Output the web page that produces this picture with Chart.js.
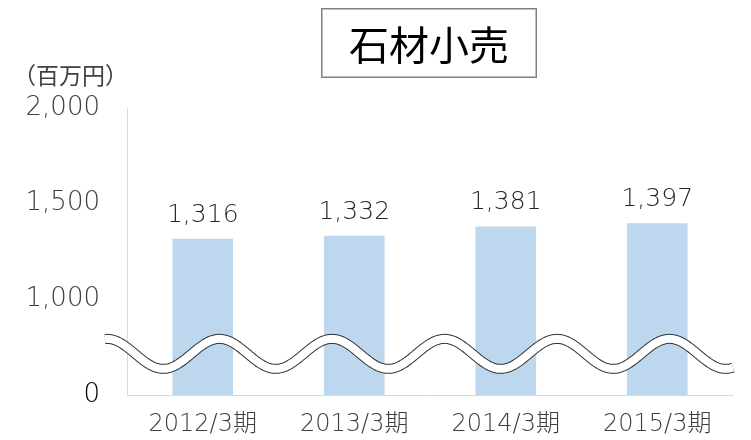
<!DOCTYPE html>
<html>
<head>
<meta charset="utf-8">
<script src="https://cdn.jsdelivr.net/npm/chart.js@4"></script>
<style>
  body { margin: 0; background: #fff; }
  #wrap { position: relative; width: 751px; height: 440px; font-family: "Noto Sans CJK JP", sans-serif; }
  #title {
    position: absolute; left: 321px; top: 8px; width: 214px; height: 68px;
    border: 1px solid #7f7f7f; box-shadow: inset 0 0 0 1px #bfbfbf;
    font-size: 40px; line-height: 68px; text-align: center; color: #000;
  }
  #unit { position: absolute; left: 13px; top: 57px; font-size: 23px; color: #404040; }
  canvas { position: absolute; left: 0; top: 0; }
</style>
</head>
<body>
<div id="wrap">
  <canvas id="chart" width="751" height="440"></canvas>
  <div id="title">石材小売</div>
  <div id="unit">（百万円）</div>
</div>
<script>
const categories = ['2012/3期', '2013/3期', '2014/3期', '2015/3期'];
const sales = [1316, 1332, 1381, 1397];
const yTicks = [500, 1000, 1500, 2000];
const tickLabels = ['0', '1,000', '1,500', '2,000'];

const FONT = '"DejaVu Sans", "Noto Sans CJK JP", sans-serif';

// draw value labels above bars
const valueLabels = {
  id: 'valueLabels',
  afterDatasetsDraw(chart) {
    const ctx = chart.ctx;
    const meta = chart.getDatasetMeta(0);
    ctx.save();
    ctx.font = '200 25px ' + FONT;
    ctx.fillStyle = '#262626';
    ctx.textAlign = 'center';
    ctx.textBaseline = 'alphabetic';
    meta.data.forEach((bar, i) => {
      ctx.fillText(sales[i].toLocaleString('en-US'), bar.x, bar.y - 17);
    });
    ctx.restore();
  }
};

// wavy double line marking the axis break
const breakWave = {
  id: 'breakWave',
  afterDatasetsDraw(chart) {
    const ctx = chart.ctx;
    const area = chart.chartArea;
    const y = chart.scales.y;
    const mid = y.getPixelForValue(715);
    const amp = 15;
    const period = 112.5;
    const x0 = area.left - 22;
    const x1 = area.right;
    const phase = area.left - 20;
    ctx.save();
    ctx.beginPath();
    for (let x = x0; x <= x1; x += 1) {
      const yy = mid - amp * Math.cos(2 * Math.PI * (x - phase) / period);
      if (x === x0) ctx.moveTo(x, yy); else ctx.lineTo(x, yy);
    }
    ctx.lineCap = 'butt';
    ctx.lineJoin = 'round';
    ctx.strokeStyle = '#333';
    ctx.lineWidth = 10;
    ctx.stroke();
    ctx.strokeStyle = '#fff';
    ctx.lineWidth = 8;
    ctx.stroke();
    ctx.restore();
  }
};

new Chart(document.getElementById('chart'), {
  type: 'bar',
  data: {
    labels: categories,
    datasets: [{
      data: sales,
      backgroundColor: '#bdd7ee',
      barPercentage: 0.4,
      categoryPercentage: 1
    }]
  },
  options: {
    responsive: false,
    animation: false,
    layout: { padding: { top: 108, right: 18, left: 26, bottom: 1 } },
    plugins: { legend: { display: false }, tooltip: { enabled: false } },
    scales: {
      x: {
        grid: { display: false, drawTicks: false },
        border: { display: true, color: '#d9d9d9', width: 1 },
        ticks: { color: '#404040', font: { family: FONT, size: 24, weight: 200 }, padding: 15 },
        afterFit(axis) { axis.height = 44; axis.paddingLeft = 0; axis.paddingRight = 0; }
      },
      y: {
        min: 500,
        max: 2000,
        afterBuildTicks(axis) { axis.ticks = yTicks.map(v => ({ value: v })); },
        grid: { display: false, drawTicks: false },
        border: { display: true, color: '#d9d9d9', width: 1 },
        ticks: {
          color: (c) => c.tick && c.tick.value === 500 ? '#000' : '#404040',
          font: { family: FONT, size: 26, weight: 200 },
          padding: 27,
          callback: (v) => tickLabels[yTicks.indexOf(v)]
        },
        afterFit(axis) { axis.width = 101; axis.paddingTop = 0; axis.paddingBottom = 0; }
      }
    }
  },
  plugins: [valueLabels, breakWave]
});
</script>
</body>
</html>
